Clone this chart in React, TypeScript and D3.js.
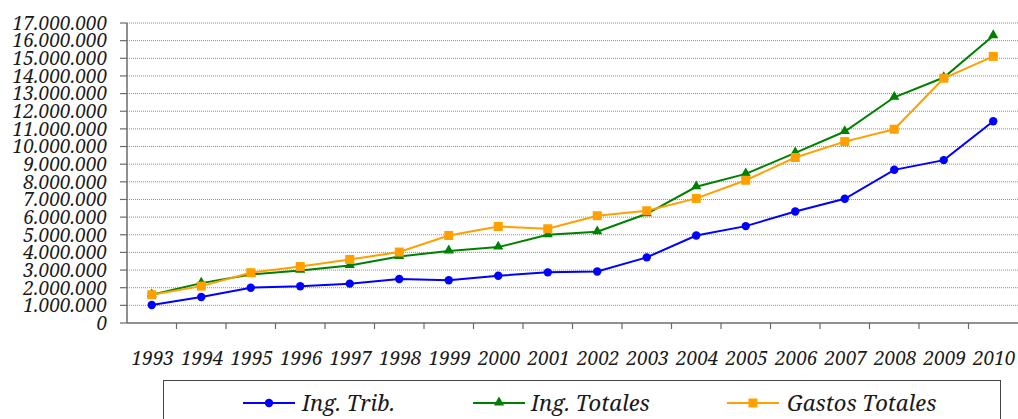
import * as d3 from 'd3'
import React from 'react'

const years = ['1993', '1994', '1995', '1996', '1997', '1998', '1999', '2000', '2001',
  '2002', '2003', '2004', '2005', '2006', '2007', '2008', '2009', '2010']

// values in units
const ingTrib = [1020000, 1470000, 2000000, 2080000, 2230000, 2490000, 2420000, 2680000, 2870000,
  2920000, 3720000, 4960000, 5490000, 6320000, 7040000, 8680000, 9230000, 11430000]
const ingTotales = [1600000, 2260000, 2750000, 2980000, 3260000, 3770000, 4080000, 4300000, 5000000,
  5170000, 6190000, 7720000, 8450000, 9640000, 10850000, 12790000, 13910000, 16280000]
const gastosTotales = [1600000, 2090000, 2850000, 3200000, 3600000, 4020000, 4960000, 5470000, 5340000,
  6080000, 6360000, 7060000, 8090000, 9380000, 10280000, 10980000, 13870000, 15110000]

const yTicks = d3.range(0, 17000001, 1000000)

const series = [
  { name: 'Ing. Trib.', values: ingTrib, color: '#0000ff', marker: 'circle' },
  { name: 'Ing. Totales', values: ingTotales, color: '#008000', marker: 'triangle' },
  { name: 'Gastos Totales', values: gastosTotales, color: '#ff9f00', marker: 'square' },
]

const font = "'Noto Serif', 'DejaVu Serif', serif"
const fmt = (v: number) => (v === 0 ? '0' : d3.format(',')(v).replace(/,/g, '.'))

const W = 1018
const H = 419
const left = 127
const right = 1018
const top = 23
const bottom = 323

const Marker = ({ type, x, y, color }: { type: string; x: number; y: number; color: string }) => {
  if (type === 'circle') return <circle cx={x} cy={y} r={4.2} fill={color} />
  if (type === 'square') return <rect x={x - 4.5} y={y - 4.5} width={9} height={9} fill={color} />
  const sym = d3.symbol().type(d3.symbolTriangle).size(45)()
  return <path d={sym || ''} transform={`translate(${x},${y - 0.5})`} fill={color} />
}

const App = () => {
  const x = d3.scaleBand().domain(years).range([left, right])
  const y = d3.scaleLinear().domain([0, 17000000]).range([bottom, top])
  const cx = (d: string) => (x(d) || 0) + x.bandwidth() / 2
  const line = d3.line<number>().x((_, i) => cx(years[i])).y(v => y(v))

  const legendItems = [
    { lx: 243, tx: 302 },
    { lx: 473, tx: 531 },
    { lx: 727, tx: 787 },
  ]

  const textStyle = { fontFamily: font, fontStyle: 'italic' as const }

  return (
    <svg width={W} height={H} style={{ position: 'absolute', left: 0, top: 0, background: '#fff' }}>
      {/* grid */}
      {yTicks.filter(t => t > 0).map(t => (
        <line key={t} x1={left} x2={right} y1={y(t)} y2={y(t)} stroke="#8c8c8c" strokeWidth={1}
          strokeDasharray="1,1" />
      ))}
      {/* y axis */}
      <line x1={left} x2={left} y1={top} y2={bottom} stroke="#6b6b6b" strokeWidth={1.5} />
      {yTicks.map(t => (
        <g key={t}>
          <line x1={left - 7} x2={left} y1={y(t)} y2={y(t)} stroke="#6b6b6b" strokeWidth={1.2} />
          <text x={107} y={y(t)} dy="0.36em" textAnchor="end" style={textStyle}
            fontSize={19} fill="#1a1a1a">{fmt(t)}</text>
        </g>
      ))}
      {/* x axis */}
      <line x1={left} x2={right} y1={bottom} y2={bottom} stroke="#6b6b6b" strokeWidth={1.5} />
      {years.map((yr, i) => (
        <g key={yr}>
          {i > 0 && <line x1={x(yr)} x2={x(yr)} y1={bottom} y2={bottom + 6} stroke="#6b6b6b" strokeWidth={1.2} />}
          <text x={cx(yr) + 1} y={365} textAnchor="middle" style={textStyle}
            fontSize={19} fill="#1a1a1a">{yr}</text>
        </g>
      ))}
      {/* series */}
      {series.map(s => (
        <g key={s.name}>
          <path d={line(s.values) || ''} fill="none" stroke={s.color} strokeWidth={2} />
          {s.values.map((v, i) => (
            <Marker key={i} type={s.marker} x={cx(years[i])} y={y(v)} color={s.color} />
          ))}
        </g>
      ))}
      {/* legend */}
      <rect x={163.5} y={380.5} width={837} height={50} fill="#fff" stroke="#444" strokeWidth={1} />
      {series.map((s, i) => (
        <g key={s.name}>
          <line x1={legendItems[i].lx} x2={legendItems[i].lx + 52} y1={403} y2={403} stroke={s.color} strokeWidth={2} />
          <Marker type={s.marker} x={legendItems[i].lx + 26} y={403} color={s.color} />
          <text x={legendItems[i].tx} y={411} style={textStyle} fontSize={22}
            fill="#1a1a1a">{s.name}</text>
        </g>
      ))}
    </svg>
  )
}

export default App
